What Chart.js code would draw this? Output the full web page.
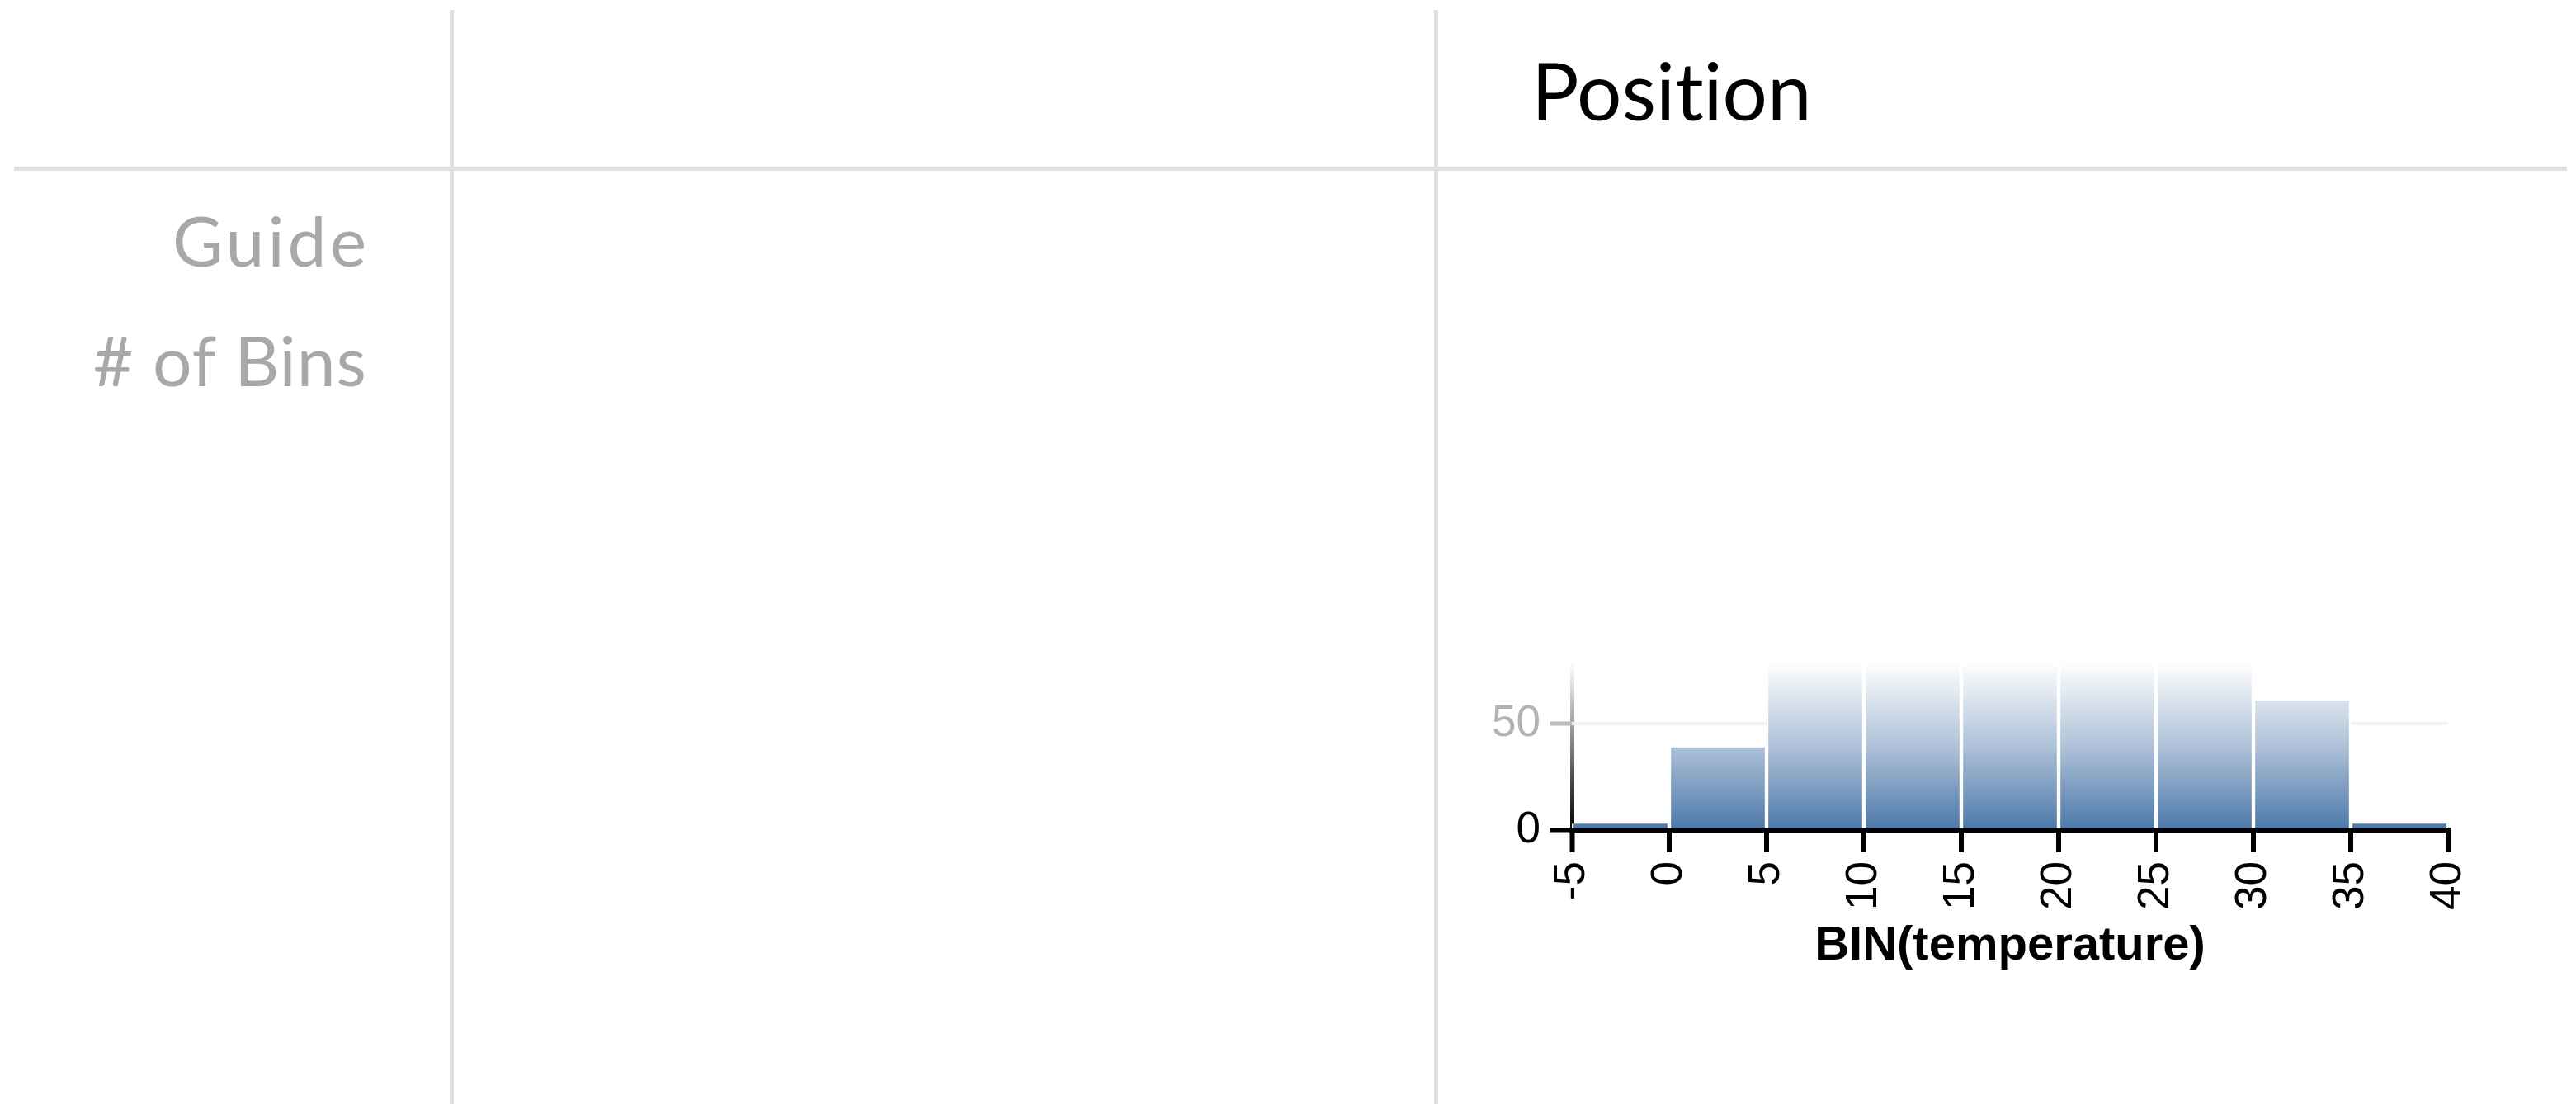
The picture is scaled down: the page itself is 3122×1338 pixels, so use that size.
<!DOCTYPE html>
<html>
<head>
<meta charset="utf-8">
<script src="https://cdn.jsdelivr.net/npm/chart.js@4/dist/chart.umd.min.js"></script>
<style>
  html, body { margin: 0; padding: 0; background: #fff; }
  body { width: 3122px; height: 1338px; position: relative; overflow: hidden; }
  .line { position: absolute; background: #dfe0e1; }
  .txt { position: absolute; font-family: Lato, 'Open Sans', sans-serif; line-height: 1; white-space: nowrap; font-variant-ligatures: none; font-feature-settings: "liga" 0, "clig" 0; }
  #chartBox { position: absolute; left: 1700px; top: 760px; width: 1400px; height: 430px; }
</style>
</head>
<body>
<div class="line" style="left:545px; top:12px; width:5px; height:1326px;"></div>
<div class="line" style="left:1738px; top:12px; width:5px; height:1326px;"></div>
<div class="line" style="left:17px; top:202px; width:3094px; height:5px;"></div>

<div class="txt" style="left:1856px; top:61px; font-size:96px; color:#000;">Position</div>
<div class="txt" style="right:2674px; top:249px; font-size:84px; letter-spacing:4px; color:#a7a9a9;">Guide</div>
<div class="txt" style="right:2677px; top:394px; font-size:84px; letter-spacing:1px; color:#a7a9a9;">&#35; of Bins</div>

<div id="chartBox"><canvas id="c" width="1400" height="430"></canvas></div>

<script>
// ---- data ----
const binStarts = [-5, 0, 5, 10, 15, 20, 25, 30, 35];
const binWidth = 5;
const counts = [3, 39, 92, 108, 117, 113, 98, 61, 3];
const xTicks = [-5, 0, 5, 10, 15, 20, 25, 30, 35, 40];
const yTicks = [0, 50];
const xTitle = 'BIN(temperature)';

Chart.defaults.font.family = "'Liberation Sans', Arial, Helvetica, sans-serif";

const points = binStarts.map((s, i) => ({ x: s + binWidth / 2, y: counts[i] }));

function barGradient(c) {
  const a = c.chart.chartArea;
  if (!a) return '#4c78a8';
  const g = c.chart.ctx.createLinearGradient(0, a.bottom, 0, a.top);
  g.addColorStop(0, 'rgb(76,120,168)');
  g.addColorStop(0.5, 'rgb(174,194,216)');
  g.addColorStop(1, 'rgb(255,255,255)');
  return g;
}
function axisGradient(c) {
  const a = c.chart.chartArea;
  if (!a) return '#000';
  const g = c.chart.ctx.createLinearGradient(0, a.bottom, 0, a.top);
  g.addColorStop(0, 'rgb(0,0,0)');
  g.addColorStop(1, 'rgb(255,255,255)');
  return g;
}

new Chart(document.getElementById('c'), {
  type: 'bar',
  data: {
    datasets: [{
      data: points,
      backgroundColor: barGradient,
      borderColor: '#ffffff',
      borderWidth: { left: 2.5, right: 2.5, top: 0, bottom: 0 },
      borderSkipped: false,
      barPercentage: 1,
      categoryPercentage: 1,
      clip: 0
    }]
  },
  options: {
    responsive: false,
    animation: false,
    layout: { padding: { left: 0, top: 35, right: 133, bottom: 8 } },
    plugins: { legend: { display: false }, tooltip: { enabled: false } },
    scales: {
      x: {
        type: 'linear',
        min: -5,
        max: 40,
        offset: false,
        z: 1,
        afterBuildTicks: (s) => { s.ticks = xTicks.map(v => ({ value: v })); },
        afterFit: (s) => { s.height = 176; },
        border: { display: true, color: '#000', width: 6 },
        grid: {
          offset: false,
          drawOnChartArea: true,
          drawTicks: true,
          tickLength: 27,
          tickWidth: 6,
          tickColor: '#000',
          lineWidth: (c) => (c.index === 0 ? 5 : 0),
          color: (c) => (c.index === 0 ? axisGradient(c) : 'rgba(0,0,0,0)')
        },
        ticks: {
          minRotation: 90,
          maxRotation: 90,
          padding: 11,
          color: '#000',
          font: { size: 53 },
          callback: (v) => String(v)
        },
        title: {
          display: true,
          text: xTitle,
          color: '#000',
          font: { size: 58, weight: 'bold' },
          padding: { top: 0, bottom: 0 }
        }
      },
      y: {
        min: 0,
        max: 79,
        afterBuildTicks: (s) => { s.ticks = yTicks.map(v => ({ value: v })); },
        afterFit: (s) => { s.width = 205; },
        border: { display: false },
        grid: {
          drawTicks: true,
          tickLength: 27,
          tickWidth: 5,
          lineWidth: 4,
          color: (c) => (c.tick && c.tick.value === 0 ? 'rgba(0,0,0,0)' : '#f2f2f2'),
          tickColor: (c) => (c.tick && c.tick.value === 0 ? '#000' : '#bbbbbb')
        },
        ticks: {
          padding: 11,
          font: { size: 53 },
          color: (c) => (c.tick && c.tick.value === 0 ? '#000' : '#b3b3b3'),
          callback: (v) => String(v)
        }
      }
    }
  }
});
</script>
</body>
</html>
